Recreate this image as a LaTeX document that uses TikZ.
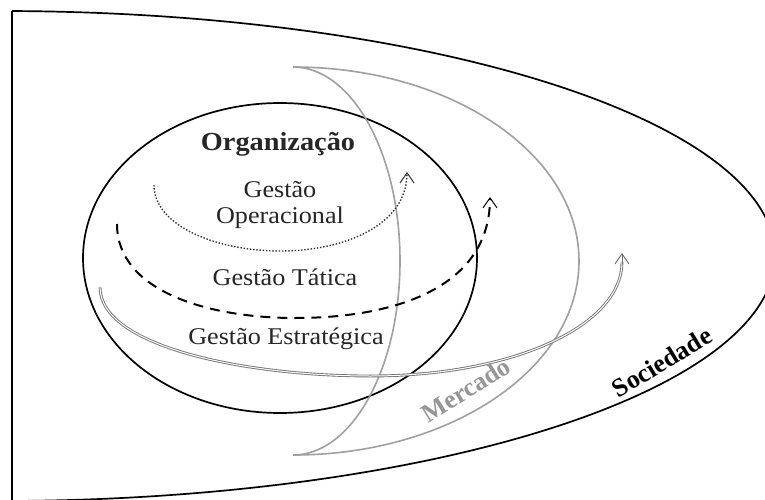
\documentclass[tikz,border=0pt]{standalone}
\usepackage{fontspec}
\setmainfont{Liberation Serif}
\usetikzlibrary{arrows.meta}
\definecolor{mkgray}{RGB}{160,160,160}
\definecolor{rope}{RGB}{115,115,115}
\definecolor{txtgray}{RGB}{150,150,150}
\newcommand\wtxt[1]{\scalebox{1.09}[1]{#1}}
\begin{document}
\begin{tikzpicture}[x=1pt,y=-1pt,
  blk/.style={line width=1.7pt},
  mk/.style={draw=mkgray,line width=1.6pt},
  lbl/.style={font=\fontsize{24}{26}\selectfont, text=black!85, anchor=base, inner sep=0pt},
  rot/.style={font=\fontsize{26}{28}\selectfont\bfseries, inner sep=0pt},
  tipv/.style={-{Straight Barb[length=10pt,width=14pt,line width=1pt]}},
]
\useasboundingbox (0,0) rectangle (765,500);
\fill[white] (0,0) rectangle (765,500);
\begin{scope}
\clip (0,0) rectangle (765,500);
% Sociedade outline
\begin{scope}
\clip (12,0) rectangle (800,520);
\draw[blk] (0,256) ellipse[x radius=775, y radius=245];
\end{scope}
\draw[blk] (12,11) -- (12,505);
% Organizacao
\draw[blk] (280,258) ellipse[x radius=197, y radius=155];
% Mercado crescent
\begin{scope}
\clip (293,0) rectangle (765,500);
\draw[mk] (293,261) ellipse[x radius=107, y radius=194];
\draw[mk] (293,261) ellipse[x radius=286, y radius=194];
\end{scope}
% arrows
\draw[draw=black!80, line width=1.4pt, dash pattern=on 1.4pt off 1.8pt, tipv]
  (154,185) .. controls (154,226) and (217,251) .. (280,251)
  .. controls (345,251) and (407,225) .. (407,172);
\draw[line width=2pt, dash pattern=on 10pt off 7pt, tipv]
  (117,224) .. controls (117,292) and (210,318) .. (295,318)
  .. controls (400,318) and (490,285) .. (490,197);
\draw[rope, line width=0.9pt, double=white, double distance=1pt]
  (100,287) .. controls (100,348) and (250,376) .. (370,376)
  .. controls (515,376) and (622,325) .. (622,262);
\draw[rope, tipv] (622,264) -- (622,253);
% labels
\node[lbl] (org) at (278,150) {\fontsize{26}{28}\selectfont\bfseries\wtxt{Organização}};
\node[lbl] (op1) at (280,197) {\wtxt{Gestão}};
\node[lbl] (op2) at (280,223) {\wtxt{Operacional}};
\node[lbl] (tat) at (285,285) {\wtxt{Gestão Tática}};
\node[lbl] (est) at (286,344) {\wtxt{Gestão Estratégica}};
\node[rot, text=txtgray, rotate=32] (merc) at (466,390) {Mercado};
\node[rot, text=black, rotate=31] (soc) at (662,362) {Sociedade};
\end{scope}
\end{tikzpicture}
\end{document}
